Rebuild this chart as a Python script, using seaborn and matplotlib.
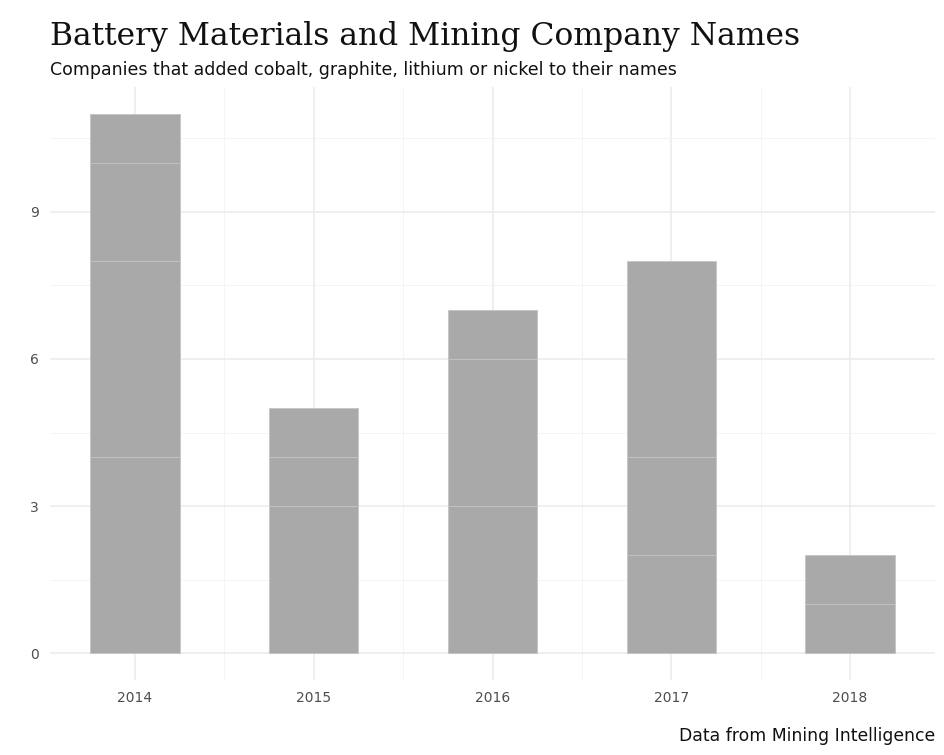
import pandas as pd
import matplotlib.pyplot as plt
import seaborn as sns
import numpy as np


# Companies renamed per year, split by the material in the new name.
years = [2014, 2015, 2016, 2017, 2018]
materials = ['cobalt', 'graphite', 'lithium', 'nickel']
cobalt = [1, 1, 1, 4, 1]
graphite = [2, 1, 3, 2, 0]
lithium = [4, 3, 3, 2, 1]
nickel = [4, 0, 0, 0, 0]

counts = {'cobalt': cobalt, 'graphite': graphite, 'lithium': lithium, 'nickel': nickel}
rows = []
for m in materials:
    for y, c in zip(years, counts[m]):
        if c > 0:
            rows.append({'year': y, 'material': m, 'n': c})
df = pd.DataFrame(rows)

sns.set_style('white')
plt.rcParams['font.family'] = ['DejaVu Sans']

fig = plt.figure(figsize=(9.44, 7.55), dpi=100)
ax = fig.add_axes([50 / 944, 1 - 680 / 755, 885 / 944, 593 / 755])

sns.histplot(data=df, x='year', weights='n', hue='material', hue_order=materials,
             multiple='stack', discrete=True, shrink=0.5,
             palette=['#A9A9A9'] * 4, alpha=1, edgecolor='#C4C4C4', linewidth=0.6,
             legend=False, ax=ax)

# Axes like ggplot's theme_minimal
ax.set_xlim(2013.525, 2018.475)
ax.set_ylim(-0.55, 11.55)
ax.set_xticks(years)
ax.set_xticks(np.array(years[:-1]) + 0.5, minor=True)
ax.set_yticks([0, 3, 6, 9])
ax.set_yticks([1.5, 4.5, 7.5, 10.5], minor=True)
ax.grid(True, which='major', color='#EBEBEB', linewidth=1.1)
ax.grid(True, which='minor', color='#F3F3F3', linewidth=0.6)
ax.set_axisbelow(True)
for s in ax.spines.values():
    s.set_visible(False)
ax.tick_params(which='both', length=0, labelsize=10, labelcolor='#4D4D4D', pad=8)
ax.set_xlabel('')
ax.set_ylabel('')

fig.text(50 / 944, 1 - 37 / 755, 'Battery Materials and Mining Company Names',
         family='DejaVu Serif', fontsize=22.6, va='center', ha='left', color='#111111')
fig.text(50 / 944, 1 - 70 / 755, 'Companies that added cobalt, graphite, lithium or nickel to their names',
         fontsize=12.5, va='center', ha='left', color='#111111')
fig.text(935 / 944, 1 - 736 / 755, 'Data from Mining Intelligence',
         fontsize=12.4, va='center', ha='right', color='#111111')

fig.savefig('out.png', dpi=100, facecolor='white')
